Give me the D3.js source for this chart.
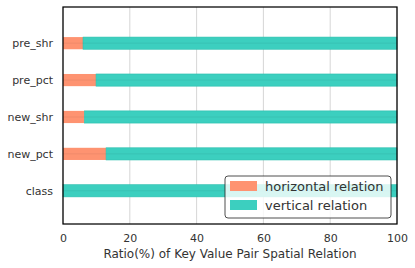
<!DOCTYPE html>
<html>
<head>
<meta charset="utf-8">
<script src="https://cdn.jsdelivr.net/npm/d3@7"></script>
<style>
  body { margin: 0; background: #fff; }
  text { font-family: "DejaVu Sans", sans-serif; fill: #333333; }
</style>
</head>
<body>
<div class="center"></div>
<script>
// data
var categories = ["class", "new_pct", "new_shr", "pre_pct", "pre_shr"];
var horizontal = [0, 12.9, 6.4, 9.9, 6.0];
var vertical = horizontal.map(function(h) { return 100 - h; });
var xTicks = [0, 20, 40, 60, 80, 100];
var seriesNames = ["horizontal relation", "vertical relation"];
var colors = ["#fe9371", "#3ccfbf"];

var margin = {top: 7, right: 18, bottom: 44, left: 63},
    width = 415 - margin.left - margin.right,
    height = 268 - margin.top - margin.bottom;

var x = d3.scaleLinear().domain([0, 100]).range([0, width]);
var y = d3.scaleLinear().domain([-0.9, 4.98]).range([height, 0]);
var barH = y(0) - y(0.33);

var svg = d3.select(".center").append("svg")
    .attr("width", 415)
    .attr("height", 268)
    .append("g")
    .attr("transform", "translate(" + margin.left + "," + margin.top + ")");

// grid
svg.selectAll("line.grid")
    .data(xTicks)
    .enter().append("line")
    .attr("class", "grid")
    .attr("x1", function(d) { return x(d); })
    .attr("x2", function(d) { return x(d); })
    .attr("y1", 0)
    .attr("y2", height)
    .style("stroke", "#cccccc")
    .style("stroke-width", 0.8);

var rows = categories.map(function(c, i) {
  return {cat: c, i: i, h: horizontal[i], v: vertical[i]};
});

// horizontal part
svg.selectAll("rect.hor")
    .data(rows)
    .enter().append("rect")
    .attr("class", "hor")
    .attr("x", x(0))
    .attr("y", function(d) { return y(d.i) - barH / 2; })
    .attr("width", function(d) { return x(d.h) - x(0); })
    .attr("height", barH)
    .style("fill", colors[0]);

// vertical part
svg.selectAll("rect.ver")
    .data(rows)
    .enter().append("rect")
    .attr("class", "ver")
    .attr("x", function(d) { return x(d.h); })
    .attr("y", function(d) { return y(d.i) - barH / 2; })
    .attr("width", function(d) { return x(d.h + d.v) - x(d.h); })
    .attr("height", barH)
    .style("fill", colors[1])
    .style("stroke", "#2bbfae")
    .style("stroke-width", 0.6);

// faint middle line through bars
svg.selectAll("line.mid")
    .data(rows)
    .enter().append("line")
    .attr("class", "mid")
    .attr("x1", x(0))
    .attr("x2", x(100))
    .attr("y1", function(d) { return y(d.i); })
    .attr("y2", function(d) { return y(d.i); })
    .style("stroke", "#000")
    .style("stroke-opacity", 0.06)
    .style("stroke-width", 1);

// frame
svg.append("rect")
    .attr("width", width)
    .attr("height", height)
    .style("fill", "none")
    .style("stroke", "#000")
    .style("stroke-width", 1.25);

// x axis
var xAxis = svg.append("g")
    .attr("transform", "translate(0," + height + ")")
    .call(d3.axisBottom(x).tickValues(xTicks).tickSize(0).tickPadding(10));
xAxis.select(".domain").remove();
xAxis.selectAll("text").style("font-size", "11px").style("fill", "#333333");

// y axis
var yAxis = svg.append("g")
    .call(d3.axisLeft(y).tickValues(d3.range(categories.length))
      .tickFormat(function(d) { return categories[d]; })
      .tickSize(0).tickPadding(10));
yAxis.select(".domain").remove();
yAxis.selectAll("text").style("font-size", "11px").style("fill", "#333333");

svg.append("text")
    .attr("x", width / 2)
    .attr("y", height + 34)
    .style("text-anchor", "middle")
    .style("font-size", "12px")
    .text("Ratio(%) of Key Value Pair Spatial Relation");

// legend
var legend = svg.append("g")
    .attr("transform", "translate(" + (width - 172) + "," + (height - 48) + ")");

legend.append("rect")
    .attr("width", 166)
    .attr("height", 42)
    .attr("rx", 3)
    .style("fill", "#fff")
    .style("fill-opacity", 0.8)
    .style("stroke", "#222")
    .style("stroke-width", 0.8);

seriesNames.forEach(function(name, i) {
  legend.append("rect")
      .attr("x", 5)
      .attr("y", 5 + i * 19)
      .attr("width", 27)
      .attr("height", 10)
      .style("fill", colors[i]);
  legend.append("text")
      .attr("x", 40)
      .attr("y", 14.5 + i * 19)
      .style("font-size", "13px")
      .text(name);
});
</script>
</body>
</html>
